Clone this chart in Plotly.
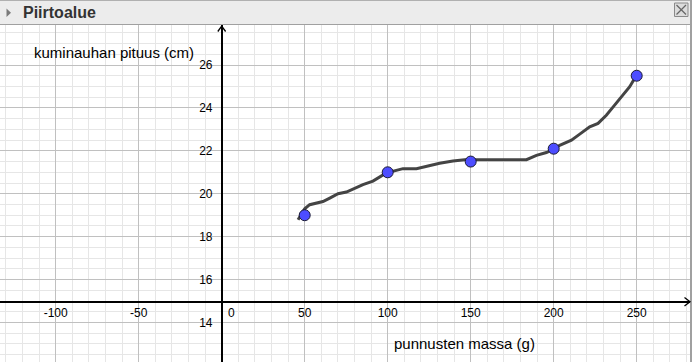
import plotly.graph_objects as go

# measured data points
mass = [50, 100, 150, 200, 250]
length = [19.0, 21.0, 21.5, 22.1, 25.5]

# freehand curve
curve_x = [46.0, 50.0, 53.0, 57.0, 61.0, 65.1, 70.1, 75.1, 80.1, 85.1, 91.1, 96.2, 99.2,
           105.2, 109.2, 117.3, 123.3, 131.3, 139.3, 146.4, 183.6, 189.6, 195.6, 199.6,
           203.6, 210.7, 215.7, 221.7, 226.7, 231.7, 236.7, 241.7, 245.8, 248.8]
curve_y = [18.79, 19.30, 19.49, 19.58, 19.64, 19.80, 20.00, 20.08, 20.27, 20.43, 20.59, 20.81, 20.97,
           21.09, 21.17, 21.17, 21.28, 21.42, 21.53, 21.59, 21.59, 21.79, 21.92, 22.06,
           22.26, 22.50, 22.78, 23.12, 23.28, 23.66, 24.13, 24.60, 24.99, 25.38]

x_ticks = [-100, -50, 50, 100, 150, 200, 250]
y_ticks = [12, 14, 16, 18, 20, 22, 24, 26, 28]

W, H = 692, 362
T, R = 25, 2
PW, PH = W - R, H - T

def px(x):
    return x / PW

def py(y):
    return (H - y) / PH

FONT = "Arial, Liberation Sans, sans-serif"

fig = go.Figure()
fig.add_trace(go.Scatter(x=curve_x, y=curve_y, mode="lines",
                         line=dict(color="#444444", width=3), hoverinfo="skip"))
fig.add_trace(go.Scatter(x=mass, y=length, mode="markers",
                         marker=dict(size=11, color="#4d4dff", line=dict(color="#1a1a33", width=1))))

x0px = 221.7
xscale = 1.66
x_range = [(0 - x0px) / xscale, (PW - x0px) / xscale]
yscale = 21.46
y_range = [26 - (H - 65) / yscale, 26 + (65 - T) / yscale]

fig.update_layout(
    width=W, height=H,
    margin=dict(l=0, r=R, t=T, b=0, pad=0),
    paper_bgcolor="white", plot_bgcolor="white",
    showlegend=False,
    font=dict(family=FONT, size=12, color="black"),
    xaxis=dict(range=x_range, tickmode="array", tickvals=x_ticks,
               ticktext=[str(v) for v in x_ticks],
               showgrid=True, gridcolor="#c0c0c0", gridwidth=1,
               minor=dict(tickmode="linear", tick0=0, dtick=10, showgrid=True,
                          gridcolor="#e6e6e6", gridwidth=1),
               zeroline=False, showline=True, linecolor="black", linewidth=1.5,
               anchor="free", position=(H - 301.7) / PH,
               ticks="",
               tickfont=dict(size=12, family=FONT, color="black"),
               fixedrange=True),
    yaxis=dict(range=y_range, tickmode="array", tickvals=y_ticks,
               ticktext=[str(v) for v in y_ticks],
               showgrid=True, gridcolor="#c0c0c0", gridwidth=1,
               minor=dict(tickmode="linear", tick0=0, dtick=0.5, showgrid=True,
                          gridcolor="#e6e6e6", gridwidth=1),
               zeroline=False, showline=True, linecolor="black", linewidth=1.5,
               anchor="free", position=x0px / PW,
               ticks="outside", ticklen=6, tickcolor="rgba(0,0,0,0)",
               tickfont=dict(size=12, family=FONT, color="black"),
               fixedrange=True),
)

shapes = []
# header bar
shapes.append(dict(type="rect", xref="paper", yref="paper", x0=0, x1=(W) / PW,
                   y0=py(24), y1=py(0), fillcolor="#ececec", line=dict(width=0), layer="above"))
shapes.append(dict(type="line", xref="paper", yref="paper", x0=0, x1=W / PW,
                   y0=py(24.5), y1=py(24.5), line=dict(color="#a0a0a0", width=1), layer="above"))
shapes.append(dict(type="line", xref="paper", yref="paper", x0=0, x1=W / PW,
                   y0=py(0.5), y1=py(0.5), line=dict(color="#b0b0b0", width=1), layer="above"))
# right border
shapes.append(dict(type="line", xref="paper", yref="paper", x0=px(691), x1=px(691),
                   y0=py(0), y1=py(362), line=dict(color="#a0a0a0", width=2), layer="above"))
# triangle icon
shapes.append(dict(type="path", xref="paper", yref="paper",
                   path=f"M {px(6.5)},{py(8.5)} L {px(6.5)},{py(17)} L {px(11)},{py(12.75)} Z",
                   fillcolor="#7a7a7a", line=dict(width=0), layer="above"))
# close button
shapes.append(dict(type="rect", xref="paper", yref="paper", x0=px(674.5), x1=px(688),
                   y0=py(16.5), y1=py(3), fillcolor="#dcdcdc",
                   line=dict(color="#8a8a8a", width=1), layer="above"))
shapes.append(dict(type="line", xref="paper", yref="paper", x0=px(676.5), x1=px(686),
                   y0=py(5), y1=py(14.5), line=dict(color="#666666", width=1.3), layer="above"))
shapes.append(dict(type="line", xref="paper", yref="paper", x0=px(676.5), x1=px(686),
                   y0=py(14.5), y1=py(5), line=dict(color="#666666", width=1.3), layer="above"))
# axis arrows
shapes.append(dict(type="path", xref="paper", yref="paper",
                   path=f"M {px(217.8)},{py(31.5)} L {px(221.7)},{py(26)} L {px(225.6)},{py(31.5)}",
                   line=dict(color="black", width=1.3), layer="above"))
shapes.append(dict(type="path", xref="paper", yref="paper",
                   path=f"M {px(684.5)},{py(297.5)} L {px(690)},{py(301.7)} L {px(684.5)},{py(306)}",
                   line=dict(color="black", width=1.3), layer="above"))
fig.update_layout(shapes=shapes)

annotations = [
    dict(text="Piirtoalue", xref="paper", yref="paper", x=px(21), y=py(12.5),
         xanchor="left", yanchor="middle", showarrow=False,
         font=dict(family=FONT, size=16, color="#333333", weight="bold")),
    dict(text="kuminauhan pituus (cm)", xref="paper", yref="paper", x=px(32), y=py(52),
         xanchor="left", yanchor="middle", showarrow=False,
         font=dict(family=FONT, size=15, color="black")),
    dict(text="punnusten massa (g)", xref="paper", yref="paper", x=px(392), y=py(343),
         xanchor="left", yanchor="middle", showarrow=False,
         font=dict(family=FONT, size=15, color="black")),
    dict(text="0", xref="paper", yref="paper", x=px(231), y=py(313),
         xanchor="center", yanchor="middle", showarrow=False,
         font=dict(family=FONT, size=12, color="black")),
]
fig.update_layout(annotations=annotations)

fig.write_html("out.html")
